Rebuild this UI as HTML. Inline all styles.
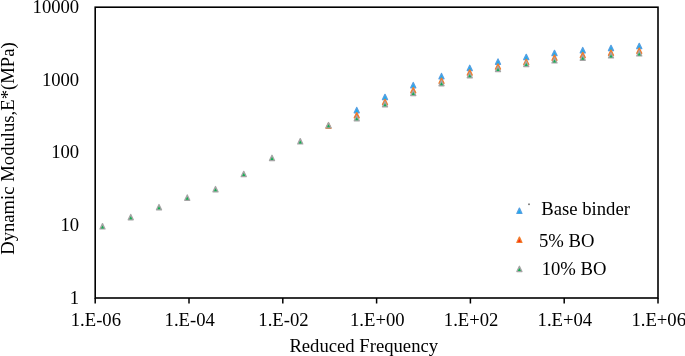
<!DOCTYPE html>
<html><head><meta charset="utf-8"><style>
html,body{margin:0;padding:0;background:#fff;width:685px;height:356px;overflow:hidden}
svg{display:block;will-change:transform}
text{font-family:"Liberation Serif",serif;font-size:18.67px;fill:#000}
</style></head><body>
<svg width="685" height="356" viewBox="0 0 685 356">
<rect x="0" y="0" width="685" height="356" fill="#fff"/>
<rect x="95.2" y="7.2" width="562.80" height="290.80" fill="none" stroke="#000" stroke-width="1.6"/>
<line x1="95.20" y1="298.0" x2="95.20" y2="303.5" stroke="#000" stroke-width="1.5"/>
<text x="95.90" y="326.0" text-anchor="middle">1.E-06</text>
<line x1="189.00" y1="298.0" x2="189.00" y2="303.5" stroke="#000" stroke-width="1.5"/>
<text x="189.70" y="326.0" text-anchor="middle">1.E-04</text>
<line x1="282.80" y1="298.0" x2="282.80" y2="303.5" stroke="#000" stroke-width="1.5"/>
<text x="283.50" y="326.0" text-anchor="middle">1.E-02</text>
<line x1="376.60" y1="298.0" x2="376.60" y2="303.5" stroke="#000" stroke-width="1.5"/>
<text x="377.30" y="326.0" text-anchor="middle">1.E+00</text>
<line x1="470.40" y1="298.0" x2="470.40" y2="303.5" stroke="#000" stroke-width="1.5"/>
<text x="471.10" y="326.0" text-anchor="middle">1.E+02</text>
<line x1="564.20" y1="298.0" x2="564.20" y2="303.5" stroke="#000" stroke-width="1.5"/>
<text x="564.90" y="326.0" text-anchor="middle">1.E+04</text>
<line x1="658.00" y1="298.0" x2="658.00" y2="303.5" stroke="#000" stroke-width="1.5"/>
<text x="658.70" y="326.0" text-anchor="middle">1.E+06</text>
<text x="79.2" y="303.60" text-anchor="end">1</text>
<text x="79.2" y="230.90" text-anchor="end">10</text>
<text x="79.2" y="158.20" text-anchor="end">100</text>
<text x="79.2" y="85.50" text-anchor="end">1000</text>
<text x="79.2" y="12.80" text-anchor="end">10000</text>
<polygon points="356.75,107.45 359.27,112.75 354.23,112.75" fill="#55a0e2" stroke="#55a0e2" stroke-width="1.3" stroke-linejoin="round"/><polygon points="356.75,109.22 358.24,112.19 355.26,112.19" fill="#16aef0"/>
<polygon points="385.00,94.35 387.52,99.65 382.48,99.65" fill="#55a0e2" stroke="#55a0e2" stroke-width="1.3" stroke-linejoin="round"/><polygon points="385.00,96.12 386.49,99.09 383.51,99.09" fill="#16aef0"/>
<polygon points="413.25,82.55 415.77,87.85 410.73,87.85" fill="#55a0e2" stroke="#55a0e2" stroke-width="1.3" stroke-linejoin="round"/><polygon points="413.25,84.32 414.74,87.29 411.76,87.29" fill="#16aef0"/>
<polygon points="441.50,73.45 444.02,78.75 438.98,78.75" fill="#55a0e2" stroke="#55a0e2" stroke-width="1.3" stroke-linejoin="round"/><polygon points="441.50,75.22 442.99,78.19 440.01,78.19" fill="#16aef0"/>
<polygon points="469.75,65.25 472.27,70.55 467.23,70.55" fill="#55a0e2" stroke="#55a0e2" stroke-width="1.3" stroke-linejoin="round"/><polygon points="469.75,67.02 471.24,69.99 468.26,69.99" fill="#16aef0"/>
<polygon points="498.00,58.95 500.52,64.25 495.48,64.25" fill="#55a0e2" stroke="#55a0e2" stroke-width="1.3" stroke-linejoin="round"/><polygon points="498.00,60.72 499.49,63.69 496.51,63.69" fill="#16aef0"/>
<polygon points="526.25,54.35 528.77,59.65 523.73,59.65" fill="#55a0e2" stroke="#55a0e2" stroke-width="1.3" stroke-linejoin="round"/><polygon points="526.25,56.12 527.74,59.09 524.76,59.09" fill="#16aef0"/>
<polygon points="554.50,50.35 557.02,55.65 551.98,55.65" fill="#55a0e2" stroke="#55a0e2" stroke-width="1.3" stroke-linejoin="round"/><polygon points="554.50,52.12 555.99,55.09 553.01,55.09" fill="#16aef0"/>
<polygon points="582.75,47.55 585.27,52.85 580.23,52.85" fill="#55a0e2" stroke="#55a0e2" stroke-width="1.3" stroke-linejoin="round"/><polygon points="582.75,49.32 584.24,52.29 581.26,52.29" fill="#16aef0"/>
<polygon points="611.00,45.35 613.52,50.65 608.48,50.65" fill="#55a0e2" stroke="#55a0e2" stroke-width="1.3" stroke-linejoin="round"/><polygon points="611.00,47.12 612.49,50.09 609.51,50.09" fill="#16aef0"/>
<polygon points="639.25,43.35 641.77,48.65 636.73,48.65" fill="#55a0e2" stroke="#55a0e2" stroke-width="1.3" stroke-linejoin="round"/><polygon points="639.25,45.12 640.74,48.09 637.76,48.09" fill="#16aef0"/>
<polygon points="328.50,122.95 331.02,128.25 325.98,128.25" fill="#f07d2e" stroke="#f07d2e" stroke-width="1.3" stroke-linejoin="round"/><polygon points="328.50,124.72 329.99,127.69 327.01,127.69" fill="#ff2a10"/>
<polygon points="356.75,112.55 359.27,117.85 354.23,117.85" fill="#f07d2e" stroke="#f07d2e" stroke-width="1.3" stroke-linejoin="round"/><polygon points="356.75,114.32 358.24,117.29 355.26,117.29" fill="#ff2a10"/>
<polygon points="385.00,99.25 387.52,104.55 382.48,104.55" fill="#f07d2e" stroke="#f07d2e" stroke-width="1.3" stroke-linejoin="round"/><polygon points="385.00,101.02 386.49,103.99 383.51,103.99" fill="#ff2a10"/>
<polygon points="413.25,87.45 415.77,92.75 410.73,92.75" fill="#f07d2e" stroke="#f07d2e" stroke-width="1.3" stroke-linejoin="round"/><polygon points="413.25,89.22 414.74,92.19 411.76,92.19" fill="#ff2a10"/>
<polygon points="441.50,78.05 444.02,83.35 438.98,83.35" fill="#f07d2e" stroke="#f07d2e" stroke-width="1.3" stroke-linejoin="round"/><polygon points="441.50,79.82 442.99,82.79 440.01,82.79" fill="#ff2a10"/>
<polygon points="469.75,69.75 472.27,75.05 467.23,75.05" fill="#f07d2e" stroke="#f07d2e" stroke-width="1.3" stroke-linejoin="round"/><polygon points="469.75,71.52 471.24,74.49 468.26,74.49" fill="#ff2a10"/>
<polygon points="498.00,63.85 500.52,69.15 495.48,69.15" fill="#f07d2e" stroke="#f07d2e" stroke-width="1.3" stroke-linejoin="round"/><polygon points="498.00,65.62 499.49,68.59 496.51,68.59" fill="#ff2a10"/>
<polygon points="526.25,59.25 528.77,64.55 523.73,64.55" fill="#f07d2e" stroke="#f07d2e" stroke-width="1.3" stroke-linejoin="round"/><polygon points="526.25,61.02 527.74,63.99 524.76,63.99" fill="#ff2a10"/>
<polygon points="554.50,54.95 557.02,60.25 551.98,60.25" fill="#f07d2e" stroke="#f07d2e" stroke-width="1.3" stroke-linejoin="round"/><polygon points="554.50,56.72 555.99,59.69 553.01,59.69" fill="#ff2a10"/>
<polygon points="582.75,52.25 585.27,57.55 580.23,57.55" fill="#f07d2e" stroke="#f07d2e" stroke-width="1.3" stroke-linejoin="round"/><polygon points="582.75,54.02 584.24,56.99 581.26,56.99" fill="#ff2a10"/>
<polygon points="611.00,49.95 613.52,55.25 608.48,55.25" fill="#f07d2e" stroke="#f07d2e" stroke-width="1.3" stroke-linejoin="round"/><polygon points="611.00,51.72 612.49,54.69 609.51,54.69" fill="#ff2a10"/>
<polygon points="639.25,47.95 641.77,53.25 636.73,53.25" fill="#f07d2e" stroke="#f07d2e" stroke-width="1.3" stroke-linejoin="round"/><polygon points="639.25,49.72 640.74,52.69 637.76,52.69" fill="#ff2a10"/>
<polygon points="102.50,223.65 105.02,228.95 99.98,228.95" fill="#a5a5a5" stroke="#a5a5a5" stroke-width="1.3" stroke-linejoin="round"/><polygon points="102.50,225.42 103.98,228.39 101.02,228.39" fill="#10b050"/>
<polygon points="130.75,214.45 133.27,219.75 128.23,219.75" fill="#a5a5a5" stroke="#a5a5a5" stroke-width="1.3" stroke-linejoin="round"/><polygon points="130.75,216.22 132.24,219.19 129.26,219.19" fill="#10b050"/>
<polygon points="159.00,204.55 161.52,209.85 156.48,209.85" fill="#a5a5a5" stroke="#a5a5a5" stroke-width="1.3" stroke-linejoin="round"/><polygon points="159.00,206.32 160.49,209.29 157.51,209.29" fill="#10b050"/>
<polygon points="187.25,194.95 189.77,200.25 184.73,200.25" fill="#a5a5a5" stroke="#a5a5a5" stroke-width="1.3" stroke-linejoin="round"/><polygon points="187.25,196.72 188.74,199.69 185.76,199.69" fill="#10b050"/>
<polygon points="215.50,186.55 218.02,191.85 212.98,191.85" fill="#a5a5a5" stroke="#a5a5a5" stroke-width="1.3" stroke-linejoin="round"/><polygon points="215.50,188.32 216.99,191.29 214.01,191.29" fill="#10b050"/>
<polygon points="243.75,171.35 246.27,176.65 241.23,176.65" fill="#a5a5a5" stroke="#a5a5a5" stroke-width="1.3" stroke-linejoin="round"/><polygon points="243.75,173.12 245.24,176.09 242.26,176.09" fill="#10b050"/>
<polygon points="272.00,155.25 274.52,160.55 269.48,160.55" fill="#a5a5a5" stroke="#a5a5a5" stroke-width="1.3" stroke-linejoin="round"/><polygon points="272.00,157.02 273.49,159.99 270.51,159.99" fill="#10b050"/>
<polygon points="300.25,138.65 302.77,143.95 297.73,143.95" fill="#a5a5a5" stroke="#a5a5a5" stroke-width="1.3" stroke-linejoin="round"/><polygon points="300.25,140.42 301.74,143.39 298.76,143.39" fill="#10b050"/>
<polygon points="328.50,122.55 331.02,127.85 325.98,127.85" fill="#a5a5a5" stroke="#a5a5a5" stroke-width="1.3" stroke-linejoin="round"/><polygon points="328.50,124.32 329.99,127.29 327.01,127.29" fill="#10b050"/>
<polygon points="356.75,115.55 359.27,120.85 354.23,120.85" fill="#a5a5a5" stroke="#a5a5a5" stroke-width="1.3" stroke-linejoin="round"/><polygon points="356.75,117.32 358.24,120.29 355.26,120.29" fill="#10b050"/>
<polygon points="385.00,101.55 387.52,106.85 382.48,106.85" fill="#a5a5a5" stroke="#a5a5a5" stroke-width="1.3" stroke-linejoin="round"/><polygon points="385.00,103.32 386.49,106.29 383.51,106.29" fill="#10b050"/>
<polygon points="413.25,90.25 415.77,95.55 410.73,95.55" fill="#a5a5a5" stroke="#a5a5a5" stroke-width="1.3" stroke-linejoin="round"/><polygon points="413.25,92.02 414.74,94.99 411.76,94.99" fill="#10b050"/>
<polygon points="441.50,80.45 444.02,85.75 438.98,85.75" fill="#a5a5a5" stroke="#a5a5a5" stroke-width="1.3" stroke-linejoin="round"/><polygon points="441.50,82.22 442.99,85.19 440.01,85.19" fill="#10b050"/>
<polygon points="469.75,72.55 472.27,77.85 467.23,77.85" fill="#a5a5a5" stroke="#a5a5a5" stroke-width="1.3" stroke-linejoin="round"/><polygon points="469.75,74.32 471.24,77.29 468.26,77.29" fill="#10b050"/>
<polygon points="498.00,66.25 500.52,71.55 495.48,71.55" fill="#a5a5a5" stroke="#a5a5a5" stroke-width="1.3" stroke-linejoin="round"/><polygon points="498.00,68.02 499.49,70.99 496.51,70.99" fill="#10b050"/>
<polygon points="526.25,61.25 528.77,66.55 523.73,66.55" fill="#a5a5a5" stroke="#a5a5a5" stroke-width="1.3" stroke-linejoin="round"/><polygon points="526.25,63.02 527.74,65.99 524.76,65.99" fill="#10b050"/>
<polygon points="554.50,57.65 557.02,62.95 551.98,62.95" fill="#a5a5a5" stroke="#a5a5a5" stroke-width="1.3" stroke-linejoin="round"/><polygon points="554.50,59.42 555.99,62.39 553.01,62.39" fill="#10b050"/>
<polygon points="582.75,54.95 585.27,60.25 580.23,60.25" fill="#a5a5a5" stroke="#a5a5a5" stroke-width="1.3" stroke-linejoin="round"/><polygon points="582.75,56.72 584.24,59.69 581.26,59.69" fill="#10b050"/>
<polygon points="611.00,52.65 613.52,57.95 608.48,57.95" fill="#a5a5a5" stroke="#a5a5a5" stroke-width="1.3" stroke-linejoin="round"/><polygon points="611.00,54.42 612.49,57.39 609.51,57.39" fill="#10b050"/>
<polygon points="639.25,50.65 641.77,55.95 636.73,55.95" fill="#a5a5a5" stroke="#a5a5a5" stroke-width="1.3" stroke-linejoin="round"/><polygon points="639.25,52.42 640.74,55.39 637.76,55.39" fill="#10b050"/>
<text x="289.4" y="351.8">Reduced Frequency</text>
<text transform="translate(13.8,254.8) rotate(-90)">Dynamic Modulus,E*(MPa)</text>
<polygon points="519.40,208.15 521.92,213.45 516.88,213.45" fill="#55a0e2" stroke="#55a0e2" stroke-width="1.3" stroke-linejoin="round"/><polygon points="519.40,209.92 520.88,212.89 517.91,212.89" fill="#16aef0"/>
<polygon points="519.40,237.15 521.92,242.45 516.88,242.45" fill="#f07d2e" stroke="#f07d2e" stroke-width="1.3" stroke-linejoin="round"/><polygon points="519.40,238.92 520.88,241.89 517.91,241.89" fill="#ff2a10"/>
<polygon points="519.40,266.25 521.92,271.55 516.88,271.55" fill="#a5a5a5" stroke="#a5a5a5" stroke-width="1.3" stroke-linejoin="round"/><polygon points="519.40,268.02 520.88,270.99 517.91,270.99" fill="#10b050"/>
<rect x="528" y="203.5" width="2" height="1.6" fill="#888"/>
<text x="541.3" y="214.8">Base binder</text>
<text x="539.0" y="246.6">5% BO</text>
<text x="541.7" y="275.2">10% BO</text>
</svg>
</body></html>
